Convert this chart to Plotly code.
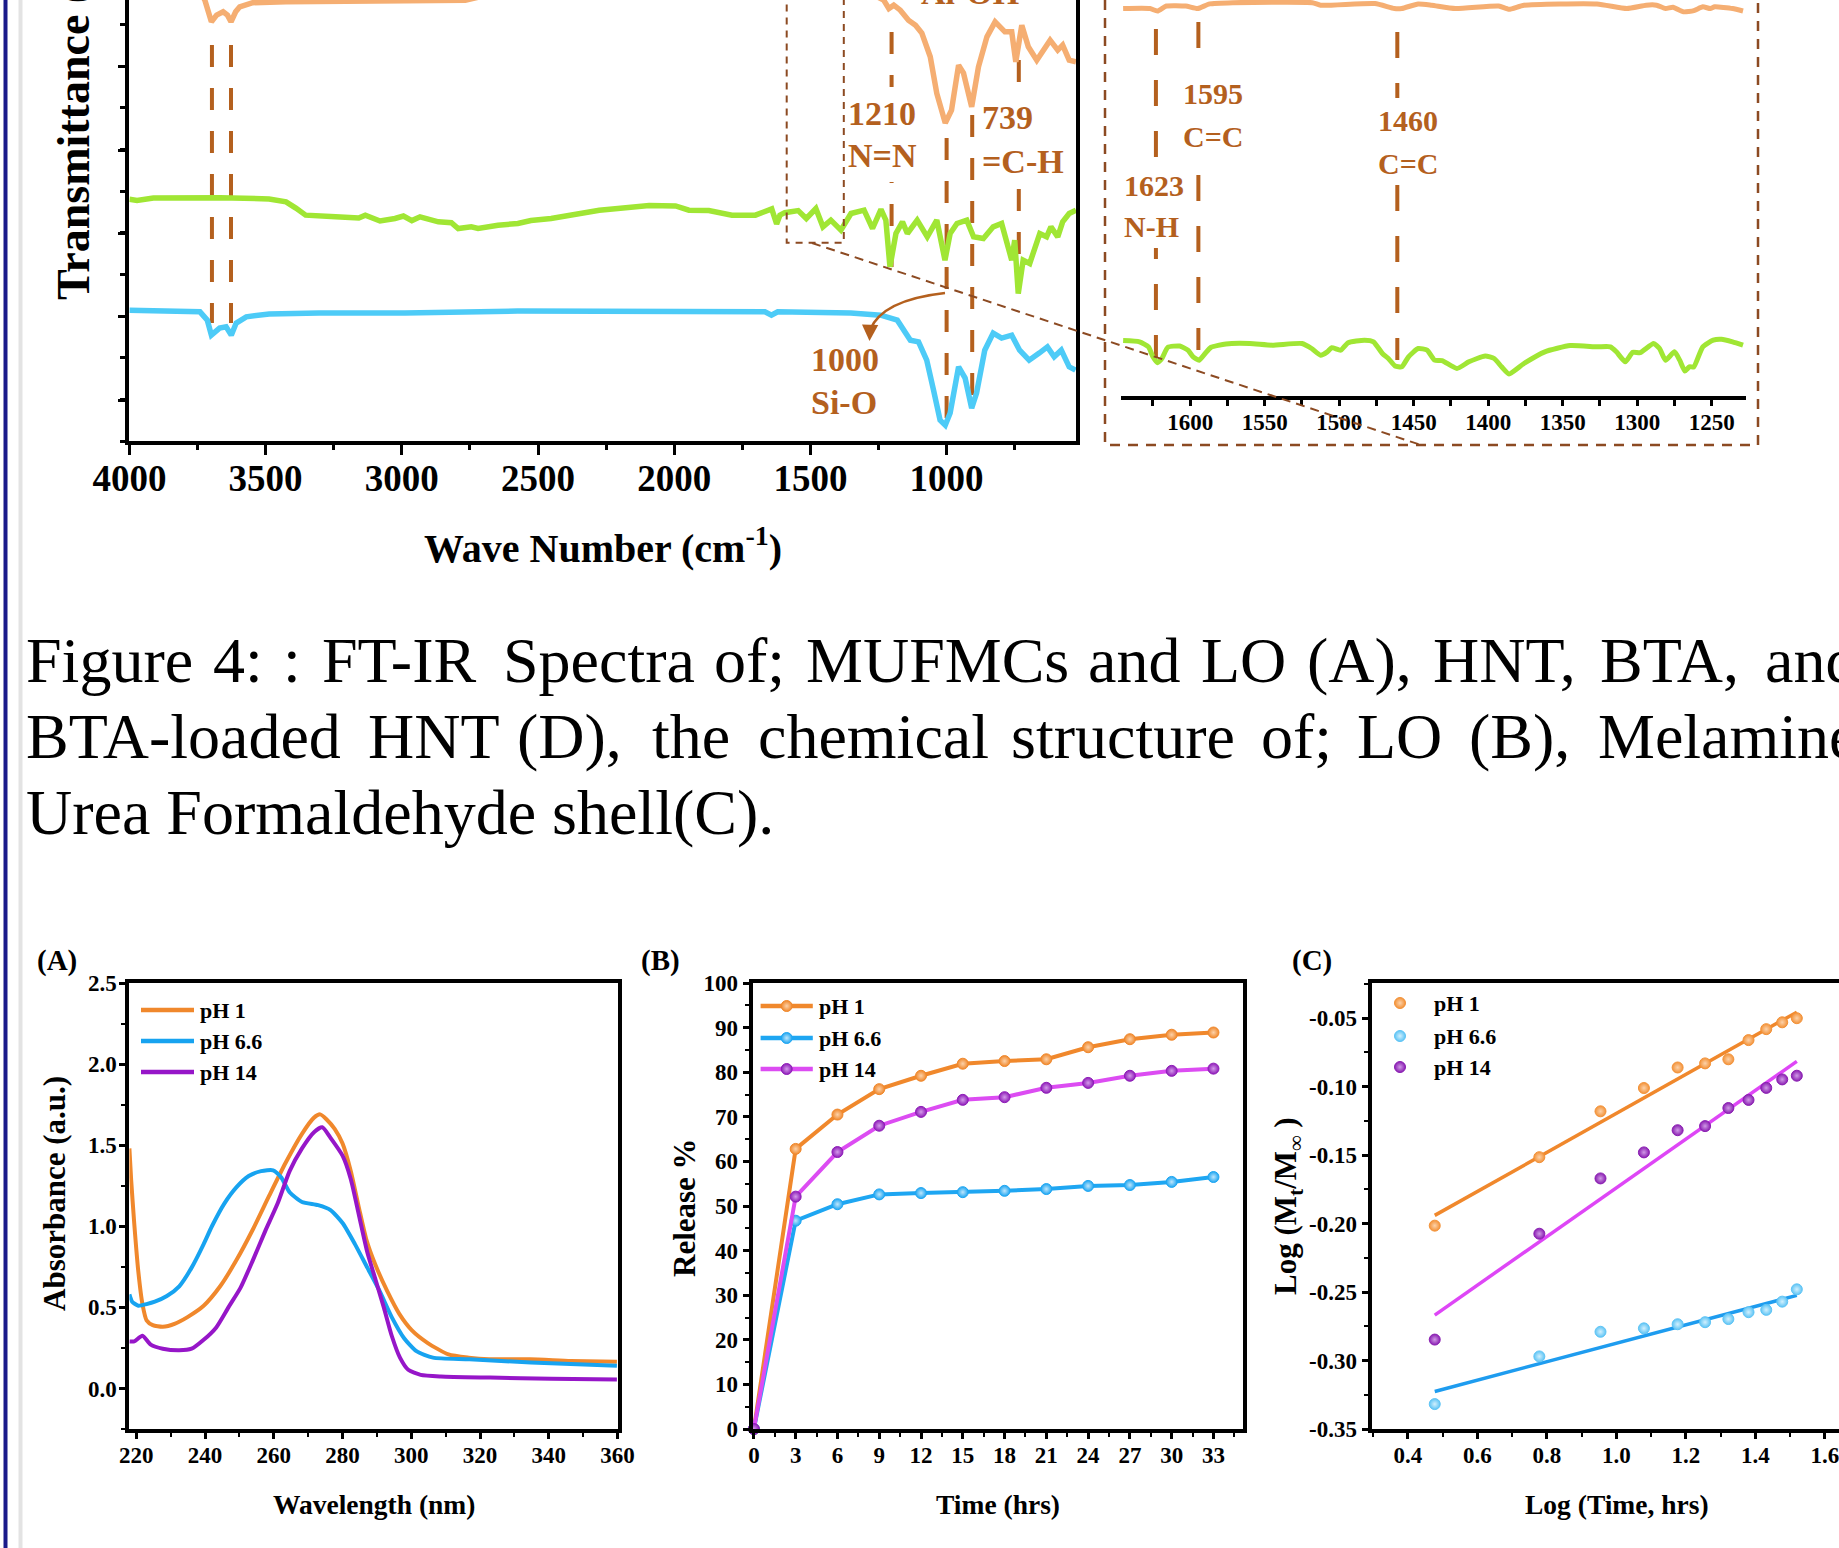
import plotly.graph_objects as go

W, H = 1839, 1548
SERIF = "Times New Roman, Liberation Serif, Tinos, serif"

# ---------------- DATA ----------------
# FT-IR main panel: wavenumber (cm-1) / transmittance (a.u.)
ir_top_wn = [4000, 3800, 3740, 3723, 3699, 3680, 3656, 3640, 3627, 3610, 3595, 3547, 3425, 3100, 2900, 2767,
             2700, 2000, 1400, 1260, 1231, 1212, 1194, 1170, 1140, 1114, 1091, 1060, 1036, 1005, 982, 956, 938,
             908, 883, 852, 822, 786, 761, 746, 724, 700, 669, 620, 592, 574, 550, 525]
ir_top_t = [108.7, 108.7, 107.8, 105.8, 100.6, 102.2, 103.0, 102.2, 100.6, 103.0, 104.2, 105.2, 105.4, 105.5,
            105.5, 105.8, 106.8, 107.8, 107.8, 106.8, 105.8, 103.8, 104.6, 103.4, 101.0, 99.8, 97.9, 92.2, 83.4,
            76.3, 79.4, 90.2, 88.3, 80.2, 89.8, 97.0, 100.6, 98.2, 98.2, 91.0, 99.8, 94.6, 91.4, 96.2, 93.8, 95.0,
            91.4, 91.0]
ir_mid_wn = [4000, 3972, 3912, 3668, 3487, 3425, 3389, 3353, 3243, 3158, 3134, 3080, 3025, 2994, 2963, 2933, 2866,
             2818, 2793, 2745, 2720, 2647, 2574, 2526, 2452, 2416, 2330, 2275, 2207, 2135, 2092, 1995, 1946, 1873,
             1788, 1702, 1642, 1624, 1612, 1594, 1545, 1515, 1480, 1454, 1425, 1388, 1351, 1303, 1272, 1241, 1223,
             1208, 1186, 1162, 1144, 1108, 1071, 1036, 1006, 987, 962, 926, 901, 865, 829, 798, 780, 761, 750, 737,
             719, 695, 658, 633, 617, 592, 574, 550, 525]
ir_mid_t = [58.0, 57.7, 58.3, 58.4, 58.1, 57.4, 55.9, 54.2, 53.8, 53.5, 54.2, 52.8, 53.4, 54.0, 52.9, 53.8, 52.6,
            52.4, 51.0, 51.4, 51.0, 51.8, 52.2, 52.9, 53.4, 53.8, 54.6, 55.4, 55.8, 56.2, 56.5, 56.4, 55.4, 55.3,
            54.2, 54.2, 55.7, 52.1, 54.2, 54.8, 55.3, 53.4, 55.8, 51.4, 53.0, 50.6, 54.6, 55.4, 51.0, 55.6, 53.0,
            41.8, 49.8, 52.6, 49.8, 53.0, 49.0, 53.0, 43.4, 49.8, 52.2, 53.0, 49.0, 48.6, 51.4, 52.2, 48.2, 43.4,
            48.2, 35.4, 43.4, 42.6, 49.8, 49.0, 51.4, 49.0, 52.6, 54.6, 55.4]
ir_bot_wn = [4000, 3741, 3714, 3699, 3669, 3645, 3626, 3608, 3571, 3487, 3304, 2989, 2575, 2275, 2139, 1667, 1643,
             1620, 1352, 1242, 1181, 1133, 1103, 1073, 1048, 1024, 1005, 987, 956, 932, 908, 890, 860, 829, 798,
             761, 732, 697, 660, 630, 605, 579, 550, 527]
ir_bot_t = [31.4, 31.0, 29.0, 25.4, 27.1, 27.4, 25.4, 28.3, 29.8, 30.5, 30.7, 30.7, 31.2, 31.2, 31.2, 31.0, 30.2,
            31.0, 30.7, 30.2, 29.0, 24.2, 23.8, 19.4, 12.2, 5.0, 3.8, 6.7, 17.8, 15.1, 7.9, 11.5, 21.8, 25.9, 24.7,
            25.4, 21.8, 19.4, 21.1, 22.6, 20.2, 21.8, 17.8, 17.0]

# FT-IR inset (1650-1225 cm-1)
inset_top_wn = [1645, 1627, 1622, 1616, 1603, 1595, 1587, 1571.5, 1518, 1512.5, 1476, 1463, 1458, 1447, 1438, 1422,
                1393, 1386, 1376, 1327, 1307, 1294, 1287, 1281, 1276, 1269, 1262, 1256, 1251, 1248, 1236, 1229]
inset_top_t = [93.0, 93.0, 92.4, 93.6, 93.6, 93.0, 94.1, 94.4, 94.4, 93.8, 94.2, 93.0, 93.0, 94.1, 93.8, 93.0,
               93.6, 92.8, 93.8, 94.1, 93.0, 93.8, 93.8, 93.0, 93.3, 92.2, 92.5, 93.4, 93.0, 93.4, 93.0, 92.4]
inset_mid_wn = [1645, 1634, 1628, 1625, 1622, 1619, 1615, 1607, 1601.5, 1598, 1594, 1590, 1586, 1576, 1560, 1545,
                1525, 1518.5, 1512.5, 1508, 1505, 1499, 1494, 1483, 1477, 1471, 1467, 1462.5, 1458, 1453.5, 1447,
                1441, 1436, 1431, 1421, 1413, 1402, 1396, 1391, 1386, 1376, 1362, 1345, 1327, 1318, 1314, 1308,
                1303, 1298, 1289, 1285, 1281, 1275, 1271.5, 1268, 1265, 1262, 1256, 1249, 1243.5, 1236, 1229]
inset_mid_t = [13.3, 13.0, 11.8, 9.4, 8.0, 9.0, 11.7, 12.0, 11.0, 9.4, 8.6, 10.2, 11.7, 12.5, 12.6, 12.2, 12.6,
               11.4, 9.8, 10.6, 11.6, 11.0, 12.8, 13.4, 13.0, 10.2, 9.0, 7.2, 7.0, 9.4, 11.4, 11.0, 8.6, 8.5, 6.6,
               8.2, 9.6, 9.0, 7.0, 5.3, 7.8, 10.6, 12.1, 11.8, 11.8, 10.6, 8.2, 10.5, 10.4, 12.6, 11.4, 8.6, 10.6,
               8.6, 6.0, 7.0, 7.0, 11.8, 13.4, 13.6, 13.0, 12.2]

# (A) UV-vis absorbance
uv_wl_ph1 = [218, 218.5, 219.4, 220.6, 221.8, 223, 224.8, 227.7, 231.3, 234.9, 239.6, 244.4, 249.1, 253.9, 258.7,
             263.4, 268.2, 271.7, 273.5, 275.3, 277.7, 280, 282.4, 284.8, 286.9, 289.4, 293, 296.5, 300.1, 304.8,
             310.8, 316.7, 322.6, 334.5, 346.4, 359.8]
uv_abs_ph1 = [1.48, 1.29, 1.02, 0.72, 0.52, 0.42, 0.39, 0.38, 0.40, 0.44, 0.51, 0.63, 0.79, 0.98, 1.19, 1.39, 1.57,
              1.67, 1.69, 1.66, 1.60, 1.51, 1.34, 1.11, 0.92, 0.77, 0.60, 0.46, 0.36, 0.28, 0.21, 0.19, 0.18, 0.18,
              0.17, 0.165]
uv_wl_ph66 = [218, 218.8, 220.6, 223, 225.4, 228.9, 232.5, 236.1, 239.6, 242, 245.6, 249.1, 252.7, 256.3, 259.8,
              262.2, 264.6, 268.2, 272.9, 276.5, 280, 283.6, 287.2, 290.8, 294.3, 297.9, 301.5, 306.3, 316.9, 334.8,
              359.8]
uv_abs_ph66 = [0.58, 0.535, 0.51, 0.52, 0.535, 0.57, 0.63, 0.745, 0.89, 1.00, 1.14, 1.24, 1.31, 1.34, 1.345, 1.30,
               1.21, 1.15, 1.13, 1.10, 1.02, 0.89, 0.745, 0.60, 0.44, 0.31, 0.23, 0.19, 0.18, 0.16, 0.14]
uv_wl_ph14 = [218, 219.4, 221.8, 224.2, 227.7, 232.5, 236.1, 239.6, 243.2, 246.8, 250.3, 253.9, 257.5, 261.1, 264.6,
              268.2, 271.7, 274.1, 276.5, 280, 282.4, 284.8, 287.2, 289.6, 292, 294.3, 296.7, 299.1, 302.7, 308.6,
              322.9, 340.7, 359.8]
uv_abs_ph14 = [0.29, 0.29, 0.325, 0.27, 0.245, 0.235, 0.245, 0.30, 0.375, 0.50, 0.62, 0.79, 0.97, 1.14, 1.34, 1.48,
               1.58, 1.61, 1.545, 1.435, 1.29, 1.065, 0.84, 0.67, 0.50, 0.325, 0.19, 0.115, 0.084, 0.074, 0.067,
               0.06, 0.055]

# (B) release %
rel_time = [0, 3, 6, 9, 12, 15, 18, 21, 24, 27, 30, 33]
rel_ph1 = [0, 62.8, 70.5, 76.2, 79.2, 81.9, 82.5, 82.9, 85.6, 87.4, 88.4, 88.9]
rel_ph66 = [0, 46.7, 50.4, 52.6, 52.9, 53.1, 53.4, 53.8, 54.5, 54.7, 55.4, 56.5]
rel_ph14 = [0, 52.1, 62.1, 68.0, 71.1, 73.8, 74.4, 76.5, 77.6, 79.2, 80.3, 80.8]

# (C) release kinetics
log_time = [0.477, 0.778, 0.954, 1.079, 1.176, 1.255, 1.322, 1.380, 1.431, 1.477, 1.519]
logm_ph1 = [-0.2015, -0.1515, -0.118, -0.101, -0.086, -0.083, -0.080, -0.066, -0.058, -0.053, -0.050]
logm_ph66 = [-0.3318, -0.297, -0.279, -0.2765, -0.2735, -0.272, -0.2697, -0.2647, -0.263, -0.257, -0.248]
logm_ph14 = [-0.2847, -0.2074, -0.167, -0.148, -0.1318, -0.1288, -0.1156, -0.1097, -0.1009, -0.0947, -0.092]
fit_x = [0.477, 1.519]
fit_ph1 = [-0.194, -0.0456]
fit_ph66 = [-0.3226, -0.2524]
fit_ph14 = [-0.2668, -0.0815]

legend_labels = ["pH 1", "pH 6.6", "pH 14"]
c_ticks = [-0.35, -0.30, -0.25, -0.20, -0.15, -0.10, -0.05]
c_ticktext = ["-0.35", "-0.30", "-0.25", "-0.20", "-0.15", "-0.10", "-0.05"]

caption_l1 = ["Figure", "4:", ":", "FT-IR", "Spectra", "of;", "MUFMCs", "and", "LO", "(A),", "HNT,", "BTA,", "and"]
caption_l2 = ["BTA-loaded", "HNT", "(D),", "the", "chemical", "structure", "of;", "LO", "(B),", "Melamine"]
caption_l3 = "Urea Formaldehyde shell(C)."

# ---------------- STYLE / LAYOUT ----------------
C_IR_OR, C_IR_GR, C_IR_BL = "#F5AE72", "#A0E634", "#4DCBF7"
BR, BR2 = "#B4601E", "#8C4A22"
OR, BL, PU = "#F0882C", "#17A3F0", "#9616C8"
B_OR, B_BL, B_PU_L, B_PU_M = "#F0882C", "#1EA6F2", "#DC4CF2", "#8E1CB8"
C_OR_M, C_BL_M, C_PU_M = "#F39238", "#5EC4F5", "#8A1EB2"
C_OR_L, C_BL_L, C_PU_L = "#F0882C", "#1E9CEF", "#DE46F6"
TINT = {B_OR: "#FCD2AA", B_BL: "#BFE6FC", B_PU_M: "#D49BEA", C_OR_M: "#FCD2AA", C_BL_M: "#D2F0FD",
        C_PU_M: "#D09AE6"}


def PX(x):
    return x / W


def PY(y):
    return 1 - y / H


fig = go.Figure()

# main FT-IR
for wn, t, c in [(ir_top_wn, ir_top_t, C_IR_OR), (ir_mid_wn, ir_mid_t, C_IR_GR), (ir_bot_wn, ir_bot_t, C_IR_BL)]:
    fig.add_trace(go.Scatter(x=wn, y=t, mode="lines", line=dict(color=c, width=5.5), xaxis="x", yaxis="y",
                             showlegend=False, hoverinfo="skip"))
# inset
for wn, t, c in [(inset_top_wn, inset_top_t, C_IR_OR), (inset_mid_wn, inset_mid_t, C_IR_GR)]:
    fig.add_trace(go.Scatter(x=wn, y=t, mode="lines", line=dict(color=c, width=5, shape="spline", smoothing=0.5),
                             xaxis="x2", yaxis="y2", showlegend=False, hoverinfo="skip"))
# (A)
for wl, ab, c in [(uv_wl_ph1, uv_abs_ph1, OR), (uv_wl_ph66, uv_abs_ph66, BL), (uv_wl_ph14, uv_abs_ph14, PU)]:
    fig.add_trace(go.Scatter(x=wl, y=ab, mode="lines", line=dict(color=c, width=4, shape="spline", smoothing=0.6),
                             xaxis="x3", yaxis="y3", showlegend=False, hoverinfo="skip"))


def sphere(color, size=11):
    return dict(color=color, size=size, gradient=dict(type="radial", color=TINT[color]),
                line=dict(color=color, width=1))


# (B)
for vals, lc, mc in [(rel_ph1, B_OR, B_OR), (rel_ph66, B_BL, B_BL), (rel_ph14, B_PU_L, B_PU_M)]:
    fig.add_trace(go.Scatter(x=rel_time, y=vals, mode="lines+markers", line=dict(color=lc, width=4),
                             marker=sphere(mc), cliponaxis=False, xaxis="x4", yaxis="y4",
                             showlegend=False, hoverinfo="skip"))
# (C)
for fy, lc in [(fit_ph1, C_OR_L), (fit_ph66, C_BL_L), (fit_ph14, C_PU_L)]:
    fig.add_trace(go.Scatter(x=fit_x, y=fy, mode="lines", line=dict(color=lc, width=3.5), xaxis="x5", yaxis="y5",
                             showlegend=False, hoverinfo="skip"))
for vals, mc in [(logm_ph1, C_OR_M), (logm_ph66, C_BL_M), (logm_ph14, C_PU_M)]:
    fig.add_trace(go.Scatter(x=log_time, y=vals, mode="markers", marker=sphere(mc, 11), xaxis="x5", yaxis="y5",
                             showlegend=False, hoverinfo="skip"))

# legend glyphs (drawn on a pixel overlay)
leg_a_y = [1010, 1041, 1072]
leg_b_y = [1006, 1038, 1069]
leg_c_y = [1003, 1036, 1067]
for y, c in zip(leg_a_y, [OR, BL, PU]):
    fig.add_trace(go.Scatter(x=[141, 194], y=[y, y], mode="lines", line=dict(color=c, width=4.5),
                             xaxis="x6", yaxis="y6", showlegend=False, hoverinfo="skip"))
for y, lc, mc in zip(leg_b_y, [B_OR, B_BL, B_PU_L], [B_OR, B_BL, B_PU_M]):
    fig.add_trace(go.Scatter(x=[760.6, 812.8], y=[y, y], mode="lines", line=dict(color=lc, width=4.5),
                             xaxis="x6", yaxis="y6", showlegend=False, hoverinfo="skip"))
    fig.add_trace(go.Scatter(x=[786.7], y=[y], mode="markers", marker=sphere(mc),
                             xaxis="x6", yaxis="y6", showlegend=False, hoverinfo="skip"))
for y, mc in zip(leg_c_y, [C_OR_M, C_BL_M, C_PU_M]):
    fig.add_trace(go.Scatter(x=[1400], y=[y], mode="markers", marker=sphere(mc, 11),
                             xaxis="x6", yaxis="y6", showlegend=False, hoverinfo="skip"))


def tfont(size):
    return dict(family=SERIF, size=size, color="black", weight="bold")


def frame_axis(**kw):
    d = dict(showline=True, linecolor="black", linewidth=4, mirror=True, ticks="outside", ticklen=6,
             tickwidth=2.5, tickcolor="black", showgrid=False, zeroline=False, tickfont=tfont(23),
             fixedrange=True, automargin=False, ticklabeloverflow="allow")
    d.update(kw)
    return d


layout = dict(
    width=W, height=H, autosize=False, margin=dict(l=0, r=0, t=0, b=0, pad=0), paper_bgcolor="white",
    plot_bgcolor="rgba(0,0,0,0)", showlegend=False,
    xaxis=frame_axis(domain=[PX(129.4), PX(1076)], range=[4000, 525], anchor="y", mirror=False,
                     tick0=0, dtick=500, ticklen=10, tickfont=tfont(37), ticklabelstandoff=-8,
                     minor=dict(dtick=250, ticks="outside", ticklen=5, tickwidth=2.5, tickcolor="black")),
    yaxis=frame_axis(domain=[PY(441), 1], range=[0, 105.84], anchor="x", showticklabels=False,
                     tick0=9.8, dtick=20, ticklen=7,
                     minor=dict(dtick=10, ticks="outside", ticklen=5, tickwidth=2.5, tickcolor="black")),
    xaxis2=frame_axis(domain=[PX(1120.6), PX(1746)], range=[1646.7, 1227], anchor="y2", mirror=False,
                      tick0=0, dtick=50, ticklen=6, ticklabelstandoff=-4,
                      minor=dict(dtick=25, ticks="outside", ticklen=6, tickwidth=2.5, tickcolor="black")),
    yaxis2=dict(domain=[PY(396), 1], range=[0, 95.04], anchor="x2", visible=False, fixedrange=True,
                automargin=False),
    xaxis3=frame_axis(domain=[PX(129.4), PX(617.6)], range=[218, 360], anchor="y3", tick0=0, dtick=20,
                      ticklabelstandoff=-4,
                      minor=dict(dtick=10, ticks="outside", ticklen=4, tickwidth=2, tickcolor="black")),
    yaxis3=frame_axis(domain=[PY(1429), PY(983)], range=[-0.25, 2.5], anchor="x3", tick0=0, dtick=0.5,
                      tickformat=".1f", ticklabelstandoff=-2,
                      minor=dict(dtick=0.25, ticks="outside", ticklen=4, tickwidth=2, tickcolor="black")),
    xaxis4=frame_axis(domain=[PX(752.5), PX(1242.7)], range=[-0.1, 35.1], anchor="y4", tick0=0, dtick=3,
                      ticklabelstandoff=-4,
                      minor=dict(dtick=1.5, ticks="outside", ticklen=4, tickwidth=2, tickcolor="black")),
    yaxis4=frame_axis(domain=[PY(1429), PY(983)], range=[0, 100], anchor="x4", tick0=0, dtick=10,
                      minor=dict(dtick=5, ticks="outside", ticklen=4, tickwidth=2, tickcolor="black")),
    xaxis5=frame_axis(domain=[PX(1371.5), 1], range=[0.295, 1.6404], anchor="y5", tick0=0, dtick=0.2,
                      tickformat=".1f", ticklabelstandoff=-4,
                      minor=dict(dtick=0.1, ticks="outside", ticklen=4, tickwidth=2, tickcolor="black")),
    yaxis5=frame_axis(domain=[PY(1429), PY(983)], range=[-0.35, -0.0243], anchor="x5", mirror=False,
                      tickvals=c_ticks, ticktext=c_ticktext,
                      minor=dict(dtick=0.025, tick0=-0.35, ticks="outside", ticklen=4, tickwidth=2,
                                 tickcolor="black")),
    xaxis6=dict(domain=[0, 1], range=[0, W], anchor="y6", visible=False, fixedrange=True, automargin=False),
    yaxis6=dict(domain=[0, 1], range=[H, 0], anchor="x6", visible=False, fixedrange=True, automargin=False),
)

shapes = []
annotations = []


def vline(xref, xval, ytop, ybot, dash, width=4, color=BR):
    shapes.append(dict(type="line", xref=xref, yref="paper", x0=xval, x1=xval, y0=PY(ytop), y1=PY(ybot),
                       line=dict(color=color, width=width, dash=dash), layer="below"))


def rect(x0, y0, x1, y1, fill=None, color=None, width=0, dash="solid", layer="below"):
    shapes.append(dict(type="rect", xref="paper", yref="paper", x0=PX(x0), x1=PX(x1), y0=PY(y0), y1=PY(y1),
                       fillcolor=fill if fill else "rgba(0,0,0,0)",
                       line=dict(color=color if color else "rgba(0,0,0,0)", width=width, dash=dash),
                       layer=layer))


def seg(x0, y0, x1, y1, color, width, dash="solid", layer="above"):
    shapes.append(dict(type="line", xref="paper", yref="paper", x0=PX(x0), x1=PX(x1), y0=PY(y0), y1=PY(y1),
                       line=dict(color=color, width=width, dash=dash), layer=layer))


def txt(text, x, y, size, color="black", bold=True, xa="center", ya="middle", angle=0):
    annotations.append(dict(text=text, x=PX(x), y=PY(y), xref="paper", yref="paper", showarrow=False,
                            xanchor=xa, yanchor=ya, textangle=angle, borderpad=0,
                            font=dict(family=SERIF, size=size, color=color,
                                      weight="bold" if bold else "normal")))


# page borders
seg(5.5, 0, 5.5, H, "#1B1B8A", 4, layer="above")
seg(20.5, 0, 20.5, H, "#E3E3E3", 4, layer="above")

# main FT-IR peak markers
D_MAIN = "22px,21px"
vline("x", 3697, 45, 323, D_MAIN)
vline("x", 3627, 45, 323, D_MAIN)
vline("x", 1202, 32, 267, D_MAIN)
vline("x", 1000, 138, 418, D_MAIN)
vline("x", 906, 115, 398, D_MAIN)
vline("x", 735, 60, 287, D_MAIN)
# inset peak markers
D_INS = "26px,25px"
vline("x2", 1623, 29, 357, D_INS)
vline("x2", 1594.5, 22, 350, D_INS)
vline("x2", 1461, 32, 360, D_INS)

# white label boxes
rect(845, 87, 920, 182, fill="white")
rect(978, 93, 1071, 183, fill="white")
rect(1180, 70, 1246, 157, fill="white")
rect(1372, 98, 1438, 185, fill="white")
rect(1118, 162, 1186, 248, fill="white")

# zoom box, connector, inset border
rect(786.7, -10, 843.8, 242.7, color=BR2, width=2, dash="7px,6px", layer="above")
seg(812, 243, 1421, 445, BR2, 2, dash="9px,6px")
rect(1105, -10, 1758, 445, color=BR2, width=2.5, dash="10px,8px", layer="above")

# curved arrow to 1000 Si-O
shapes.append(dict(type="path", xref="paper", yref="paper",
                   path=f"M {PX(945)} {PY(293)} Q {PX(882)} {PY(300)} {PX(870)} {PY(330)}",
                   line=dict(color=BR, width=2.5), layer="above"))
annotations.append(dict(x=PX(869.5), y=PY(341), xref="paper", yref="paper", ax=0.5, ay=-13, text="",
                        showarrow=True, arrowhead=2, arrowsize=1.3, arrowwidth=2.5, arrowcolor=BR,
                        standoff=0))

# FT-IR labels
txt("Al-OH", 970, -7, 34, BR)
txt("1210", 882, 113, 34, BR)
txt("N=N", 882, 156, 34, BR)
txt("739", 981, 118, 34, BR, xa="left")
txt("=C-H", 981, 162, 34, BR, xa="left")
txt("1000", 845, 360, 34, BR)
txt("Si-O", 844, 403, 34, BR)
txt("1595", 1182, 94, 30, BR, xa="left")
txt("C=C", 1182, 136, 30, BR, xa="left")
txt("1460", 1377, 121, 30, BR, xa="left")
txt("C=C", 1377, 163, 30, BR, xa="left")
txt("1623", 1122.5, 185, 30, BR, xa="left")
txt("N-H", 1122.5, 226, 30, BR, xa="left")

# FT-IR axis titles
txt("Wave Number (cm<sup>-1</sup>)", 603, 546, 40)
txt("Transmittance (a.u.)", 73.5, 301, 46, angle=-90, ya="bottom")

# caption (justified lines)
cap_x1 = [24.6, 211.7, 282.4, 321.4, 501.5, 713.2, 805, 1087.4, 1200.4, 1306.3, 1431.6, 1599.3, 1763.5]
cap_x2 = [24.6, 367, 516, 651, 757, 1010, 1260, 1356, 1468, 1597]
for w, x in zip(caption_l1, cap_x1):
    txt(w, x, 660, 64, bold=False, xa="left")
for w, x in zip(caption_l2, cap_x2):
    txt(w, x, 736, 64, bold=False, xa="left")
txt(caption_l3, 24.6, 812, 64, bold=False, xa="left")

# bottom panels: labels & titles
txt("(A)", 57, 960, 29)
txt("(B)", 660, 960, 29)
txt("(C)", 1312, 960, 29)
txt("Wavelength (nm)", 374, 1504, 27.5)
txt("Time (hrs)", 998, 1504, 27.5)
txt("Log (Time, hrs)", 1617, 1504, 27.5)
txt("Absorbance (a.u.)", 54, 1194, 31, angle=-90)
txt("Release %", 684, 1208, 31, angle=-90)
txt("Log (M<sub>t</sub>/M<sub>\u221e</sub> )", 1288, 1206, 31, angle=-90)

for lab, y in zip(legend_labels, leg_a_y):
    txt(lab, 199, y, 22, xa="left")
for lab, y in zip(legend_labels, leg_b_y):
    txt(lab, 818, y, 22, xa="left")
for lab, y in zip(legend_labels, leg_c_y):
    txt(lab, 1433, y, 22, xa="left")

layout["shapes"] = shapes
layout["annotations"] = annotations
fig.update_layout(**layout)
fig.write_html("out.html")
